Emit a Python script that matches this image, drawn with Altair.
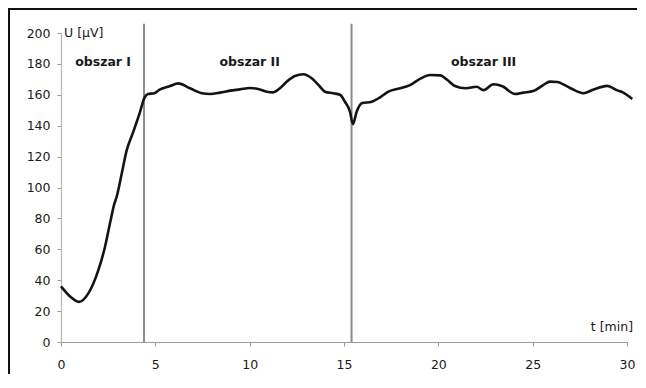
import altair as alt
import pandas as pd

# measured curve: time [min] and voltage U [µV]
t_min = [0, 0.48, 0.95, 1.45, 1.98, 2.33, 2.6, 2.83, 2.95, 3.22, 3.48, 3.83, 4.19, 4.42, 4.6,
         4.95, 5.25, 5.78, 6.22, 6.84, 7.46, 7.9, 8.43, 8.96, 9.49, 10.02, 10.55, 10.9, 11.25,
         11.6, 11.96, 12.4, 12.84, 13.29, 13.73, 13.99, 14.43, 14.79, 15.05, 15.32, 15.47,
         15.67, 15.94, 16.47, 16.91, 17.35, 17.97, 18.5, 19.03, 19.56, 20.1, 20.44, 20.88,
         21.45, 22.03, 22.39, 22.92, 23.4, 24.06, 24.5, 25.03, 25.56, 25.92, 26.3, 26.98,
         27.69, 28.2, 28.95, 29.46, 29.8, 30.28]
u_uv = [36, 29.5, 26, 31.5, 46.5, 61.5, 77, 89.5, 94, 109, 124, 136, 149, 158, 160.5,
        161, 163.5, 165.7, 167.4, 164.2, 161, 160.5, 161.4, 162.7, 163.5, 164.4, 163.5, 162,
        161.6, 164.2, 168.5, 172.2, 173.3, 170.7, 165.2, 162, 161, 160, 155.5, 149, 141,
        149, 154.5, 155.5, 158.3, 162, 164.2, 166.3, 170.3, 172.8, 172.6, 170, 165.7,
        164.2, 165.2, 163, 166.8, 165.5, 160.5, 161.4, 162.4, 166.3, 168.5, 168.3, 164.4,
        161, 163.3, 165.8, 163, 161.4, 157.3]

# region boundaries
boundaries = [4.4, 15.4]
boundary_top = [206, 206]

# region labels
region_names = ["obszar I", "obszar II", "obszar III"]
region_x = [2.23, 10.0, 22.4]
region_y = [181, 181, 181]

x_ticks = [0, 5, 10, 15, 20, 25, 30]
y_ticks = [0, 20, 40, 60, 80, 100, 120, 140, 160, 180, 200]

FONT = "DejaVu Sans"
FS = 12.5

curve_df = pd.DataFrame({"t": t_min, "u": u_uv})
bound_df = pd.DataFrame({"t": boundaries, "y0": [0, 0], "y1": boundary_top})
region_df = pd.DataFrame({"name": region_names, "t": region_x, "u": region_y})
ulabel_df = pd.DataFrame({"t": [0.16], "u": [200], "txt": ["U [µV]"]})
tlabel_df = pd.DataFrame({"t": [30.32], "u": [9.4], "txt": ["t [min]"]})

xscale = alt.Scale(domain=[0, 30], nice=False, zero=False)
yscale = alt.Scale(domain=[0, 200], nice=False)

xaxis = alt.Axis(values=x_ticks, title=None, grid=False, domainColor="#9a9a9a",
                 tickColor="#9a9a9a", tickSize=4, labelPadding=12, labelFont=FONT,
                 labelFontSize=FS, labelColor="#1a1a1a", domainWidth=1.2,
                 labelOverlap=False, labelFlush=False)
yaxis = alt.Axis(values=y_ticks, title=None, grid=False, domainColor="#b5b5b5",
                 tickColor="#9a9a9a", tickSize=4, labelPadding=7, labelFont=FONT,
                 labelFontSize=FS, labelColor="#1a1a1a", domainWidth=1.2,
                 labelOverlap=False, labelFlush=False)

one = pd.DataFrame({"a": [0]})
frame_left = alt.Chart(one).mark_rect(color="#111111", strokeWidth=0).encode(
    x=alt.value(-53), x2=alt.value(-51), y=alt.value(-25), y2=alt.value(341)
)
frame_top = alt.Chart(one).mark_rect(color="#111111", strokeWidth=0).encode(
    x=alt.value(-53), x2=alt.value(576), y=alt.value(-25), y2=alt.value(-23)
)

rules = alt.Chart(bound_df).mark_rule(color="#8c8c8c", strokeWidth=2).encode(
    x=alt.X("t:Q", scale=xscale, axis=xaxis),
    y=alt.Y("y0:Q", scale=yscale, axis=yaxis),
    y2="y1:Q",
)

line = alt.Chart(curve_df).mark_line(
    color="#141414", strokeWidth=2.6, interpolate="monotone"
).encode(
    x=alt.X("t:Q", scale=xscale, axis=xaxis),
    y=alt.Y("u:Q", scale=yscale, axis=yaxis),
)

regions = alt.Chart(region_df).mark_text(
    font=FONT, fontSize=FS, fontWeight="bold", color="#1a1a1a", align="center",
    baseline="middle"
).encode(x=alt.X("t:Q", axis=xaxis), y=alt.Y("u:Q", axis=yaxis), text="name:N")

ulabel = alt.Chart(ulabel_df).mark_text(
    font=FONT, fontSize=FS, color="#1a1a1a", align="left", baseline="middle"
).encode(x=alt.X("t:Q", axis=xaxis), y=alt.Y("u:Q", axis=yaxis), text="txt:N")

tlabel = alt.Chart(tlabel_df).mark_text(
    font=FONT, fontSize=FS, color="#1a1a1a", align="right", baseline="middle"
).encode(x=alt.X("t:Q", axis=xaxis), y=alt.Y("u:Q", axis=yaxis), text="txt:N")

chart = alt.layer(frame_left, frame_top, rules, line, regions, ulabel, tlabel).properties(
    width=566, height=309,
    background="white",
    autosize=alt.AutoSizeParams(type="none"),
    padding={"left": 53, "top": 25, "right": 10, "bottom": 32},
).configure_view(stroke=None)

chart.save("out.html", embed_options={"renderer": "svg", "actions": False})
